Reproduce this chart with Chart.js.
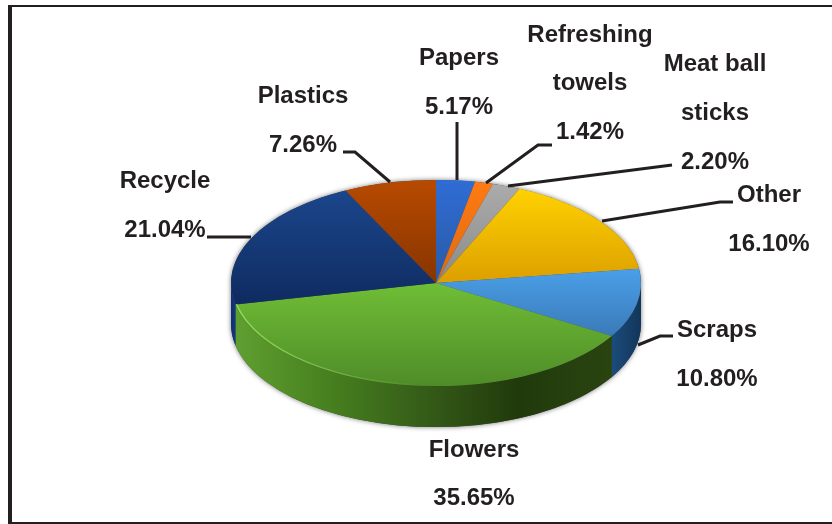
<!DOCTYPE html>
<html>
<head>
<meta charset="utf-8">
<script src="https://cdn.jsdelivr.net/npm/chart.js@4"></script>
<style>
  html, body { margin: 0; padding: 0; background: #fff; overflow: hidden; }
  #frame {
    position: absolute; left: 8px; top: 5px; width: 824px; height: 519px;
    box-sizing: border-box; pointer-events: none;
    border-left: 4px solid #231f20; border-top: 2px solid #231f20; border-bottom: 2px solid #231f20;
  }
  canvas { position: absolute; left: 0; top: 0; display: block; }
</style>
</head>
<body>
<canvas id="wastePie" width="832" height="524"></canvas>
<div id="frame"></div>
<script>
const categories = ['Papers', 'Refreshing towels', 'Meat ball sticks', 'Other', 'Scraps', 'Flowers', 'Recycle', 'Plastics'];

// percentages as printed on the labels
const printedPercents = ['5.17%', '1.42%', '2.20%', '16.10%', '10.80%', '35.65%', '21.04%', '7.26%'];

// slice sizes as drawn in the picture: Papers and Flowers are drawn
// narrower / wider than their printed numbers, the rest agree
const sliceValues = [3.05, 1.42, 2.20, 16.10, 10.80, 38.00, 21.04, 7.26];

const topColors = [
  ['#2f6cd4', '#2a5aa6'],
  ['#ff7a12', '#dd6a12'],
  ['#ababab', '#8a8a8a'],
  ['#ffd200', '#dc9f00'],
  ['#4a9fe8', '#3a7ab8'],
  ['#6fbe36', '#4f8c28'],
  ['#1b468c', '#0f2b60'],
  ['#b84a00', '#863500']
];

const sideColors = [
  ['#2a5aa6'], ['#c45c0c'], ['#7a7a7a'], ['#b98600'],
  ['#1b4c7c', '#12365a'],
  ['#5f9f30', '#47801f', '#355c18', '#213a0c', '#2a4410'],
  ['#0f2f70', '#123a80'],
  ['#7a3000']
];

// label text blocks: lines, centre x, middle y of each line
const labelBlocks = [
  { lines: ['Papers', printedPercents[0]], x: 459, y: [58, 107] },
  { lines: ['Refreshing', 'towels', printedPercents[1]], x: 590, y: [35, 83, 132] },
  { lines: ['Meat ball', 'sticks', printedPercents[2]], x: 715, y: [64, 113, 162] },
  { lines: ['Other', printedPercents[3]], x: 769, y: [195, 244] },
  { lines: ['Scraps', printedPercents[4]], x: 717, y: [330, 379] },
  { lines: ['Flowers', printedPercents[5]], x: 474, y: [450, 498] },
  { lines: ['Recycle', printedPercents[6]], x: 165, y: [181, 230] },
  { lines: ['Plastics', printedPercents[7]], x: 303, y: [96, 145] }
];

const leaderLines = [
  [[457, 122], [457, 180]],
  [[552, 145], [538, 145], [486, 183]],
  [[672, 165], [508, 186]],
  [[733, 202], [720, 202], [602, 221]],
  [[673, 336], [660, 336], [638, 345]],
  [[207, 237], [251, 237]],
  [[343, 152], [355, 152], [390, 182]]
];

const RADIUS = 205;
const SQUASH = 0.503;
const DEPTH = 41;
const INK = '#231f20';

function centre(chart) {
  const a = chart.chartArea;
  return { x: (a.left + a.right) / 2, y: (a.top + a.bottom) / 2 };
}

// vertical gradient over the height one slice covers on the screen
function sliceGradient(c) {
  const chart = c.chart;
  if (!chart.chartArea) return topColors[c.dataIndex][0];
  const total = sliceValues.reduce((s, v) => s + v, 0);
  let from = -Math.PI / 2;
  for (let i = 0; i < c.dataIndex; i++) from += sliceValues[i] / total * Math.PI * 2;
  const to = from + sliceValues[c.dataIndex] / total * Math.PI * 2;
  const cen = centre(chart);
  let minY = cen.y, maxY = cen.y;
  for (let k = 0; k <= 40; k++) {
    const y = cen.y + Math.sin(from + (to - from) * k / 40) * RADIUS;
    minY = Math.min(minY, y);
    maxY = Math.max(maxY, y);
  }
  const g = chart.ctx.createLinearGradient(0, minY, 0, maxY);
  g.addColorStop(0, topColors[c.dataIndex][0]);
  g.addColorStop(1, topColors[c.dataIndex][1]);
  return g;
}

function wallPath(ctx, cen, a0, a1) {
  const ry = RADIUS * SQUASH;
  ctx.beginPath();
  ctx.ellipse(cen.x, cen.y, RADIUS, ry, 0, a0, a1);
  ctx.ellipse(cen.x, cen.y + DEPTH, RADIUS, ry, 0, a1, a0, true);
  ctx.closePath();
}

const tiltPlugin = {
  id: 'tilt',
  beforeDatasetsDraw(chart) {
    const ctx = chart.ctx;
    const cen = centre(chart);
    const ry = RADIUS * SQUASH;

    // soft shadow under the whole disc
    ctx.save();
    ctx.shadowColor = 'rgba(0,0,0,0.55)';
    ctx.shadowBlur = 5;
    ctx.fillStyle = '#444';
    wallPath(ctx, cen, 0, Math.PI);
    ctx.fill();
    ctx.beginPath();
    ctx.ellipse(cen.x, cen.y, RADIUS, ry, 0, 0, Math.PI * 2);
    ctx.fill();
    ctx.restore();

    // side wall, only the front half shows
    chart.getDatasetMeta(0).data.forEach((arc, i) => {
      const a0 = Math.max(arc.startAngle, 0);
      const a1 = Math.min(arc.endAngle, Math.PI);
      if (a1 <= a0) return;
      const x0 = cen.x + Math.cos(a1) * RADIUS;
      const x1 = cen.x + Math.cos(a0) * RADIUS;
      const stops = sideColors[i];
      const g = ctx.createLinearGradient(x0, 0, x1, 0);
      stops.forEach((col, k) => {
        const p = stops.length > 1 ? k / (stops.length - 1) : 0;
        g.addColorStop(p, col);
      });
      ctx.fillStyle = g;
      wallPath(ctx, cen, a0, a1);
      ctx.fill();
    });

    ctx.save();
    ctx.translate(cen.x, cen.y);
    ctx.scale(1, SQUASH);
    ctx.translate(-cen.x, -cen.y);
  },
  afterDatasetsDraw(chart) {
    const ctx = chart.ctx;
    ctx.restore();
    const cen = centre(chart);

    // bright rim along the left front edge of the Flowers slice
    const arc = chart.getDatasetMeta(0).data[5];
    const rim = ctx.createLinearGradient(cen.x - RADIUS, 0, cen.x - 20, 0);
    rim.addColorStop(0, 'rgba(150,225,90,0.9)');
    rim.addColorStop(1, 'rgba(150,225,90,0)');
    ctx.strokeStyle = rim;
    ctx.lineWidth = 1.5;
    ctx.beginPath();
    ctx.ellipse(cen.x, cen.y, RADIUS - 1, RADIUS * SQUASH - 1, 0, Math.PI / 2, arc.endAngle);
    ctx.stroke();
  },
  afterDraw(chart) {
    const ctx = chart.ctx;
    ctx.save();
    ctx.strokeStyle = INK;
    ctx.lineWidth = 3;
    ctx.lineJoin = 'miter';
    leaderLines.forEach(pts => {
      ctx.beginPath();
      pts.forEach((p, i) => (i ? ctx.lineTo(p[0], p[1]) : ctx.moveTo(p[0], p[1])));
      ctx.stroke();
    });
    ctx.fillStyle = INK;
    ctx.font = 'bold 24px "Liberation Sans", Arial, sans-serif';
    ctx.textAlign = 'center';
    ctx.textBaseline = 'middle';
    labelBlocks.forEach(b => {
      b.lines.forEach((t, i) => ctx.fillText(t, b.x, b.y[i]));
    });
    ctx.restore();
  }
};

new Chart(document.getElementById('wastePie'), {
  type: 'pie',
  data: {
    labels: categories,
    datasets: [{
      data: sliceValues,
      backgroundColor: sliceGradient,
      borderWidth: 0
    }]
  },
  options: {
    responsive: false,
    animation: false,
    radius: RADIUS,
    layout: { padding: { left: 40, top: 42, right: 0, bottom: 0 } },
    plugins: {
      legend: { display: false },
      tooltip: { enabled: false }
    }
  },
  plugins: [tiltPlugin]
});
</script>
</body>
</html>
